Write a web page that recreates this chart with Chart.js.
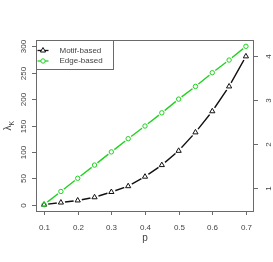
<!DOCTYPE html>
<html>
<head>
<meta charset="utf-8">
<script src="https://cdn.jsdelivr.net/npm/chart.js"></script>
<style>
  body { margin: 0; background: #fff; }
  #wrap { width: 273px; height: 262px; position: relative; }
</style>
</head>
<body>
<div id="wrap"><canvas id="chart"></canvas></div>
<script>
// data
const pValues = [0.1, 0.15, 0.2, 0.25, 0.3, 0.35, 0.4, 0.45, 0.5, 0.55, 0.6, 0.65, 0.7];
const motifBased = [0, 4, 8, 14, 24, 35, 53, 75, 102, 137, 177, 224, 281];
const edgeBased = [0, 25, 50, 75, 100, 125, 149, 174, 200, 224, 250, 274, 300];
const xTicks = [0.1, 0.2, 0.3, 0.4, 0.5, 0.6, 0.7];
const leftTicks = [0, 50, 100, 150, 200, 250, 300];
const rightTicks = [1, 2, 3, 4];
const seriesNames = ["Motif-based", "Edge-based"];

const BLACK = "#111";
const GREEN = "#1fd21f";
const AXIS = "#6a6a6a";
const TEXT = "#444";
const FONT = "Liberation Sans, Arial, sans-serif";

const series = [
  { name: seriesNames[0], values: motifBased, color: BLACK, style: "triangle", r: 3, gap: 4.2 },
  { name: seriesNames[1], values: edgeBased, color: GREEN, style: "circle", r: 2.2, gap: 3.6 }
];

function pts(ys) {
  return pValues.map((x, i) => ({ x: x, y: ys[i] }));
}

// like R's type="b": line, white gap round each point, then the open marker
const datasets = [];
series.forEach((s, i) => {
  datasets.push({
    data: pts(s.values), borderColor: s.color, borderWidth: 1.4,
    pointRadius: 0, tension: 0, order: 30 - i
  });
  datasets.push({
    data: pts(s.values), showLine: false, pointStyle: "circle",
    pointRadius: s.gap, pointBorderWidth: 0, pointBackgroundColor: "#fff",
    order: 20 - i
  });
  datasets.push({
    data: pts(s.values), showLine: false, pointStyle: s.style,
    pointRadius: s.r, pointBorderWidth: 1, pointBorderColor: s.color,
    pointBackgroundColor: "rgba(0,0,0,0)", order: 10 - i
  });
});

// R style axes, box and legend drawn from the chart scales
const rAxes = {
  id: "rAxes",
  afterDraw(chart) {
    const ctx = chart.ctx;
    const a = chart.chartArea;
    const sx = chart.scales.x, sy = chart.scales.y, sy2 = chart.scales.y2;
    ctx.save();
    ctx.strokeStyle = AXIS;
    ctx.lineWidth = 1;
    ctx.strokeRect(Math.round(a.left) + 0.5, Math.round(a.top) + 0.5,
      Math.round(a.right - a.left) - 1, Math.round(a.bottom - a.top));

    ctx.fillStyle = TEXT;
    ctx.font = "8px " + FONT;

    // bottom axis
    ctx.textAlign = "center";
    ctx.textBaseline = "alphabetic";
    xTicks.forEach(v => {
      const px = Math.round(sx.getPixelForValue(v)) + 0.5;
      ctx.beginPath();
      ctx.moveTo(px, a.bottom);
      ctx.lineTo(px, a.bottom + 4);
      ctx.stroke();
      ctx.fillText(String(v), px, 230);
    });

    // left axis
    leftTicks.forEach(v => {
      const py = Math.round(sy.getPixelForValue(v)) + 0.5;
      ctx.beginPath();
      ctx.moveTo(a.left - 4, py);
      ctx.lineTo(a.left, py);
      ctx.stroke();
      ctx.save();
      ctx.translate(26, py);
      ctx.rotate(-Math.PI / 2);
      ctx.fillText(String(v), 0, 0);
      ctx.restore();
    });

    // right axis
    rightTicks.forEach(v => {
      const py = Math.round(sy2.getPixelForValue(v)) + 0.5;
      ctx.beginPath();
      ctx.moveTo(a.right, py);
      ctx.lineTo(a.right + 4, py);
      ctx.stroke();
      ctx.save();
      ctx.translate(270.5, py);
      ctx.rotate(-Math.PI / 2);
      ctx.fillText(String(v), 0, 0);
      ctx.restore();
    });

    // axis titles
    ctx.font = "10px " + FONT;
    ctx.fillText("p", (a.left + a.right) / 2, 241);
    ctx.save();
    ctx.translate(11, (a.top + a.bottom) / 2 + 5);
    ctx.rotate(-Math.PI / 2);
    ctx.textAlign = "left";
    ctx.fillText("λ", 0, 0);
    const lw = ctx.measureText("λ").width;
    ctx.font = "7px " + FONT;
    ctx.fillText("K", lw, 2.5);
    ctx.restore();

    // legend
    const lx = Math.round(a.left) + 0.5, ly = Math.round(a.top) + 0.5;
    ctx.fillStyle = "#fff";
    ctx.fillRect(lx, ly, 77, 29);
    ctx.strokeStyle = AXIS;
    ctx.strokeRect(lx, ly, 77, 29);
    const rows = [ly + 10, ly + 20.5];
    series.forEach((s, i) => {
      const y = rows[i];
      ctx.strokeStyle = s.color;
      ctx.lineWidth = 1.3;
      ctx.beginPath();
      ctx.moveTo(lx + 1, y);
      ctx.lineTo(lx + 12, y);
      ctx.stroke();
      ctx.lineWidth = 1;
      ctx.fillStyle = "#fff";
      Chart.helpers.drawPoint(ctx, { pointStyle: s.style, radius: s.r, borderWidth: 1 }, lx + 6.5, y);
      ctx.fillStyle = TEXT;
      ctx.font = "8px " + FONT;
      ctx.textAlign = "left";
      ctx.textBaseline = "middle";
      ctx.fillText(s.name, lx + 23, y);
    });
    ctx.restore();
  }
};

new Chart(document.getElementById("chart"), {
  type: "line",
  data: { datasets: datasets },
  options: {
    responsive: true,
    maintainAspectRatio: false,
    animation: false,
    events: [],
    layout: { padding: { left: 36, top: 40, right: 19, bottom: 51 } },
    plugins: { legend: { display: false }, tooltip: { enabled: false } },
    scales: {
      x: { type: "linear", display: false, min: 0.076, max: 0.724 },
      y: { display: false, min: -12, max: 312 },
      y2: { display: false, position: "right", min: 0.476, max: 4.372 }
    }
  },
  plugins: [rAxes]
});
</script>
</body>
</html>
